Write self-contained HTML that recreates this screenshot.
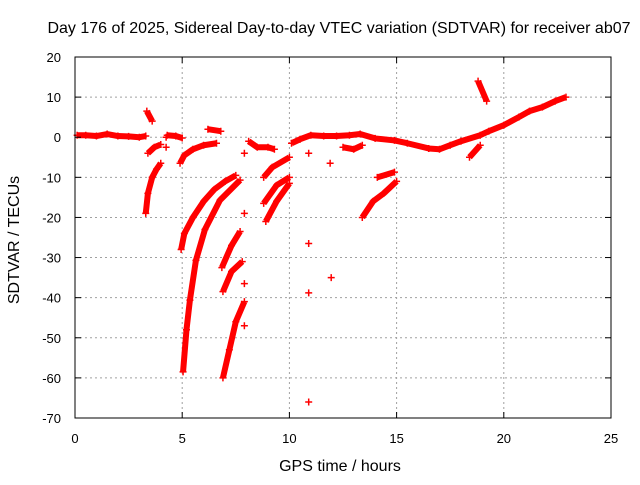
<!DOCTYPE html>
<html><head><meta charset="utf-8"><style>
body{margin:0;background:#fff}
svg text{font-family:"Liberation Sans",sans-serif;font-size:13px;fill:#000}
svg text.big{font-size:16px}
</style></head><body>
<svg width="640" height="480" xmlns="http://www.w3.org/2000/svg">
<rect width="640" height="480" fill="#fff"/>
<g id="grid"></g>
<g id="marks"></g>
<g id="axes"></g>
<text class="big" x="339" y="33" text-anchor="middle">Day 176 of 2025, Sidereal Day-to-day VTEC variation (SDTVAR) for receiver ab07</text>
<text class="big" x="340" y="471" text-anchor="middle">GPS time / hours</text>
<text class="big" transform="translate(19,240) rotate(-90)" text-anchor="middle">SDTVAR / TECUs</text>
</svg>
<script>
const xTicks=[0,5,10,15,20,25];
const yTicks=[20,10,0,-10,-20,-30,-40,-50,-60,-70];
const tracks=[
[[0.1,0.5],[0.5,0.5],[1,0.3],[1.5,0.8],[2,0.3],[2.5,0.2],[3,0],[3.3,0.3]],
[[3.35,6.5],[3.6,4]],
[[3.4,-4],[3.7,-2.5],[4.0,-1.8]],
[[3.3,-19],[3.4,-14],[3.6,-10],[3.8,-8],[4.0,-6.5]],
[[4.3,0.5],[4.7,0.3],[5,-0.2]],
[[4.9,-6.5],[5.1,-4.5],[5.5,-3],[6,-2],[6.6,-1.5]],
[[6.2,2],[6.8,1.5]],
[[4.95,-28],[5.1,-24],[5.5,-20],[6,-16],[6.5,-13],[7,-11],[7.5,-9.5]],
[[5.04,-58.5],[5.2,-48],[5.36,-40.6],[5.64,-30.7],[6.06,-23],[6.76,-15.7],[7.7,-10.7]],
[[6.85,-32.5],[7.3,-27],[7.7,-23.5]],
[[6.9,-38.5],[7.3,-33.5],[7.8,-31]],
[[6.9,-60],[7.2,-53],[7.5,-46],[7.9,-41]],
[[8.1,-1],[8.5,-2.5],[9,-2.5],[9.3,-3]],
[[8.8,-10],[9.2,-7.5],[10,-5]],
[[8.8,-16.5],[9.4,-12],[10,-10]],
[[8.9,-21],[9.4,-16],[10,-11.5]],
[[10.1,-1.5],[10.5,-0.5],[11,0.5],[11.6,0.3],[12.2,0.3],[12.8,0.5],[13.3,0.8],[14,-0.3],[14.9,-0.8],[15.5,-1.5],[16.5,-2.8],[17,-3],[17.5,-2],[18,-1],[18.9,0.5],[19.3,1.5],[20,3],[20.7,5],[21.2,6.5],[21.8,7.5],[22.4,9],[22.9,10]],
[[12.5,-2.5],[13,-3],[13.4,-2]],
[[18.4,-5],[18.9,-2]],
[[18.8,14],[19.2,9]],
[[14.1,-10],[14.9,-8.7]],
[[13.4,-20],[13.9,-16],[14.4,-14],[15,-11]]
];
const singles=[[10.9,-4],[11.9,-6.5],[10.9,-26.5],[11.95,-35],[10.9,-38.8],[10.9,-66],[7.9,-4],[7.9,-19],[7.9,-36.5],[7.9,-47],[4.25,0],[4.25,-2.5]];
const NS="http://www.w3.org/2000/svg";
const X0=75,X1=611,Y0=57,Y1=418;
const sx=h=>X0+(h-0)/25*(X1-X0);
const sy=v=>Y0+(20-v)/90*(Y1-Y0);
function mk(tag,attrs,parent){const e=document.createElementNS(NS,tag);for(const k in attrs)e.setAttribute(k,attrs[k]);parent.appendChild(e);return e;}
const grid=document.getElementById('grid'),axes=document.getElementById('axes'),marks=document.getElementById('marks');
xTicks.forEach(t=>{
 const x=sx(t);
 if(t>0&&t<25){const l=mk('line',{x1:x,x2:x,y1:Y0,y2:Y1,stroke:'#a0a0a0','stroke-dasharray':'2,3'},grid);
 
 }
 mk('line',{x1:x,x2:x,y1:Y1,y2:Y1-6,stroke:'#000'},axes);
 mk('line',{x1:x,x2:x,y1:Y0,y2:Y0+6,stroke:'#000'},axes);
 const tx=mk('text',{x:x,y:443,'text-anchor':'middle'},axes);tx.textContent=t;
 
 
});
yTicks.forEach(t=>{
 const y=sy(t);
 if(t<20&&t>-70){const l=mk('line',{x1:X0,x2:X1,y1:y,y2:y,stroke:'#a0a0a0','stroke-dasharray':'2,3'},grid);
 
 }
 mk('line',{x1:X0,x2:X0+6,y1:y,y2:y,stroke:'#000'},axes);
 mk('line',{x1:X1,x2:X1-6,y1:y,y2:y,stroke:'#000'},axes);
 const tx=mk('text',{x:61,y:y+5,'text-anchor':'end'},axes);tx.textContent=t;
 
 
});
mk('rect',{x:X0,y:Y0,width:X1-X0,height:Y1-Y0,fill:'none',stroke:'#000'},axes);
function plus(h,v){const x=sx(h),y=sy(v);
 const p=mk('path',{d:`M${x-3.5},${y}H${x+3.5}M${x},${y-3.5}V${y+3.5}`,stroke:'#f00','stroke-width':1.5},marks);
 
 }
tracks.forEach(tr=>{
 const pl=mk('polyline',{points:tr.map(p=>sx(p[0])+','+sy(p[1])).join(' '),fill:'none',stroke:'#f00','stroke-width':6,'stroke-linejoin':'round','stroke-linecap':'butt'},marks);
 
 
 tr.forEach(p=>plus(p[0],p[1]));
});
singles.forEach(p=>plus(p[0],p[1]));
</script>
</body></html>
